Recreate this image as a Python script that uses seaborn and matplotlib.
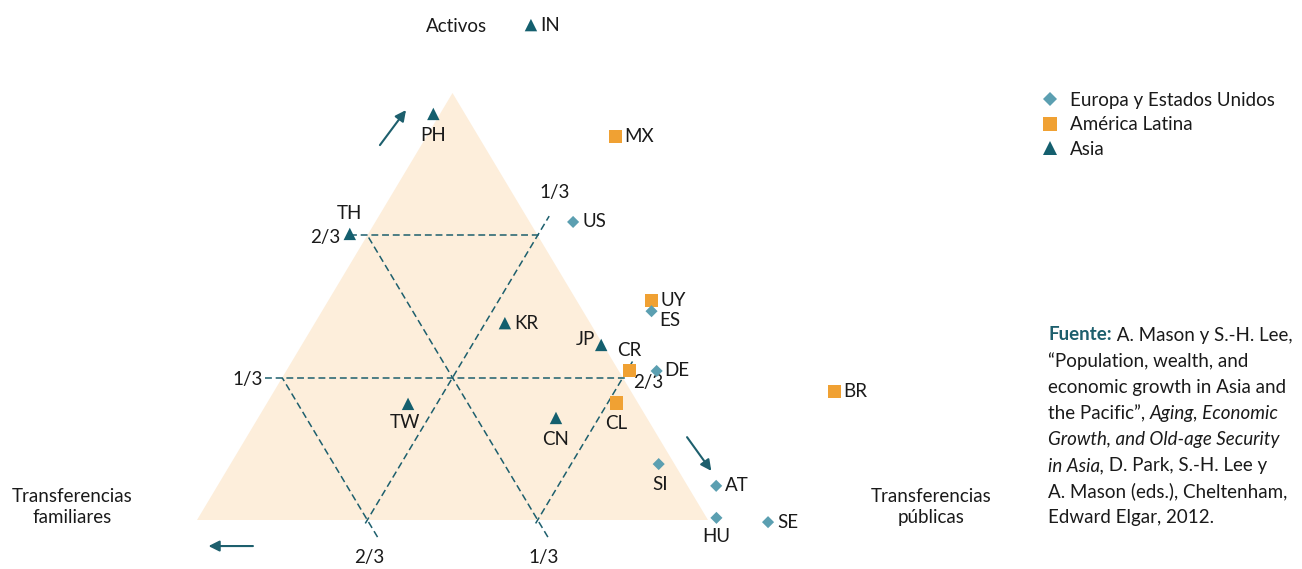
import numpy as np
import pandas as pd
import seaborn as sns
import matplotlib
matplotlib.use("Agg")
from matplotlib import pyplot as plt
from matplotlib.lines import Line2D
from matplotlib.patches import Polygon

# shares of consumption of the elderly financed by each source
countries = ["IN", "PH", "MX", "TH", "US", "UY", "ES", "KR", "JP", "CR",
             "DE", "BR", "CL", "TW", "CN", "SI", "AT", "HU", "SE"]
region = ["Asia", "Asia", "América Latina", "Asia", "Europa y Estados Unidos",
          "América Latina", "Europa y Estados Unidos", "Asia", "Asia", "América Latina",
          "Europa y Estados Unidos", "América Latina", "América Latina", "Asia", "Asia",
          "Europa y Estados Unidos", "Europa y Estados Unidos", "Europa y Estados Unidos",
          "Europa y Estados Unidos"]
activos = [1.159, 0.951, 0.897, 0.670, 0.698, 0.515, 0.489, 0.461, 0.410, 0.351,
           0.349, 0.300, 0.274, 0.272, 0.239, 0.131, 0.080, 0.005, -0.005]
publicas = [0.074, -0.013, 0.370, -0.036, 0.387, 0.632, 0.645, 0.372, 0.586, 0.671,
            0.725, 1.097, 0.683, 0.277, 0.583, 0.838, 0.976, 1.014, 1.120]
familiares = [-0.233, 0.062, -0.267, 0.366, -0.085, -0.147, -0.134, 0.167, 0.004, -0.022,
              -0.074, -0.397, 0.043, 0.451, 0.178, 0.031, -0.056, -0.019, -0.115]

regions = ["Europa y Estados Unidos", "América Latina", "Asia"]
grid_levels = [1/3, 2/3]
grid_labels = ["1/3", "2/3"]

# colours
c_eu = "#5b9fb1"
c_la = "#f0a133"
c_as = "#145f6e"
c_line = "#1d5f6d"
c_fill = "#fdeedb"

# label placement (pixels) per country
lab_off = {"IN": (9, 0, "left"), "PH": (0, -22, "center"), "MX": (9, 0, "left"),
           "TH": (0, 20, "center"), "US": (9, 0, "left"), "UY": (9, 0, "left"),
           "ES": (8, -9, "left"), "KR": (9, 0, "left"), "JP": (-6, 5, "right"),
           "CR": (0, 20, "center"), "DE": (8, 0, "left"), "BR": (9, 0, "left"),
           "CL": (0, -20, "center"), "TW": (-3, -19, "center"), "CN": (0, -22, "center"),
           "SI": (1, -20, "center"), "AT": (9, 0, "left"), "HU": (0, -19, "center"),
           "SE": (9, 0, "left")}


def tern(a, p):
    # activos on top vertex, publicas on bottom-right, familiares bottom-left
    a = np.asarray(a, dtype=float)
    p = np.asarray(p, dtype=float)
    return p + a / 2, a


df = pd.DataFrame({"pais": countries, "region": region,
                   "activos": activos, "publicas": publicas, "familiares": familiares})
df["x"], df["y"] = tern(df["activos"], df["publicas"])

sns.set_style("white")
plt.rcParams["font.family"] = ["Lato", "DejaVu Sans"]
fs = 13.5
txt_col = "#1a1a1a"

fig = plt.figure(figsize=(13.02, 5.69), dpi=100)
ax = fig.add_axes([0, 0, 1, 1])
ax.set_xlim(-197 / 511, 1105 / 511)
ax.set_ylim(-49 / 427, 520 / 427)
ax.axis("off")

ax.add_patch(Polygon([(0, 0), (1, 0), (0.5, 1)], closed=True, facecolor=c_fill,
                     edgecolor="none", zorder=0))

# dashed grid lines
dash = dict(color=c_line, lw=1.1, ls=(0, (4.5, 2.5)), zorder=1)
grid_off = {("a", 0): (-35, -2), ("a", 1): (-42, -2),
            ("f", 0): (2, -38), ("f", 1): (6, -38),
            ("p", 0): (17, 43), ("p", 1): (25, -5)}
for i, c in enumerate(grid_levels):
    # activos = c
    x, y = tern([c, c], [-0.033, 1 - c + 0.006])
    ax.plot(x, y, **dash)
    ax.annotate(grid_labels[i], tern(c, 0), xytext=grid_off[("a", i)],
                textcoords="offset pixels", ha="center", va="center", fontsize=fs, color=txt_col)
    # familiares = c
    x, y = tern([-0.04, 1 - c], [1 - c + 0.04, 0])
    ax.plot(x, y, **dash)
    ax.annotate(grid_labels[i], tern(0, 1 - c), xytext=grid_off[("f", 1 - i)],
                textcoords="offset pixels", ha="center", va="center", fontsize=fs, color=txt_col)
    # publicas = c
    x, y = tern([-0.008, 1 - c + 0.045], [c, c])
    ax.plot(x, y, **dash)
    ax.annotate(grid_labels[i], tern(1 - c, c), xytext=grid_off[("p", i)],
                textcoords="offset pixels", ha="center", va="center", fontsize=fs, color=txt_col)

# points
sns.scatterplot(data=df, x="x", y="y", hue="region", style="region", size="region",
                hue_order=regions, style_order=regions, size_order=regions,
                palette={"Europa y Estados Unidos": c_eu, "América Latina": c_la, "Asia": c_as},
                markers={"Europa y Estados Unidos": "D", "América Latina": "s", "Asia": "^"},
                sizes={"Europa y Estados Unidos": 38, "América Latina": 88, "Asia": 80},
                linewidth=0, legend=False, ax=ax, zorder=3)

for _, r in df.iterrows():
    dx, dy, ha = lab_off[r["pais"]]
    ax.annotate(r["pais"], (r["x"], r["y"]), xytext=(dx, dy), textcoords="offset pixels",
                ha=ha, va="center", fontsize=fs, color=txt_col, zorder=4)

# direction arrows
arr = dict(arrowstyle="-|>", color=c_line, lw=1.5, mutation_scale=16, shrinkA=0, shrinkB=0)
ax.annotate("", xy=tern(0.960, -0.071), xytext=tern(0.878, -0.081), arrowprops=arr)
ax.annotate("", xy=tern(0.115, 0.949), xytext=tern(0.194, 0.862), arrowprops=arr)
ax.annotate("", xy=tern(-0.061, 0.053), xytext=tern(-0.061, 0.140), arrowprops=arr)

# axis titles
fig.text(456 / 1302, 1 - 27 / 569, "Activos", ha="center", va="center", fontsize=fs, color=txt_col)
fig.text(72 / 1302, 1 - 507 / 569, "Transferencias\nfamiliares", ha="center", va="center",
         fontsize=fs, linespacing=1.35, color=txt_col)
fig.text(931 / 1302, 1 - 507 / 569, "Transferencias\npúblicas", ha="center", va="center",
         fontsize=fs, linespacing=1.35, color=txt_col)

# legend
handles = [Line2D([], [], marker="D", color=c_eu, ls="", markersize=7.5, markeredgewidth=0),
           Line2D([], [], marker="s", color=c_la, ls="", markersize=10, markeredgewidth=0),
           Line2D([], [], marker="^", color=c_as, ls="", markersize=10, markeredgewidth=0)]
leg = fig.legend(handles, regions, loc="upper left", bbox_to_anchor=(1041 / 1302, 1 - 92 / 569),
                 frameon=False, fontsize=fs, handlelength=1.0, handletextpad=0.55,
                 labelspacing=0.4, borderpad=0, borderaxespad=0)
for t in leg.get_texts():
    t.set_color(txt_col)

# source note, built fragment by fragment
src = [[("Fuente:", "bold", c_line), (" A. Mason y S.-H. Lee,", "normal", txt_col)],
       [("\u201cPopulation, wealth, and", "normal", txt_col)],
       [("economic growth in Asia and", "normal", txt_col)],
       [("the Pacific\u201d, ", "normal", txt_col), ("Aging, Economic", "italic", txt_col)],
       [("Growth, and Old-age Security", "italic", txt_col)],
       [("in Asia,", "italic", txt_col), (" D. Park, S.-H. Lee y", "normal", txt_col)],
       [("A. Mason (eds.), Cheltenham,", "normal", txt_col)],
       [("Edward Elgar, 2012.", "normal", txt_col)]]
renderer = fig.canvas.get_renderer()
for i, line in enumerate(src):
    xpx = 1048
    ypx = 335 + i * 26.1
    for txt, kind, col in line:
        t = fig.text(xpx / 1302, 1 - ypx / 569, txt, ha="left", va="center", fontsize=fs,
                     color=col, fontweight="bold" if kind == "bold" else "normal",
                     fontstyle="italic" if kind == "italic" else "normal")
        xpx += t.get_window_extent(renderer).width

fig.savefig("out.png", dpi=100)
